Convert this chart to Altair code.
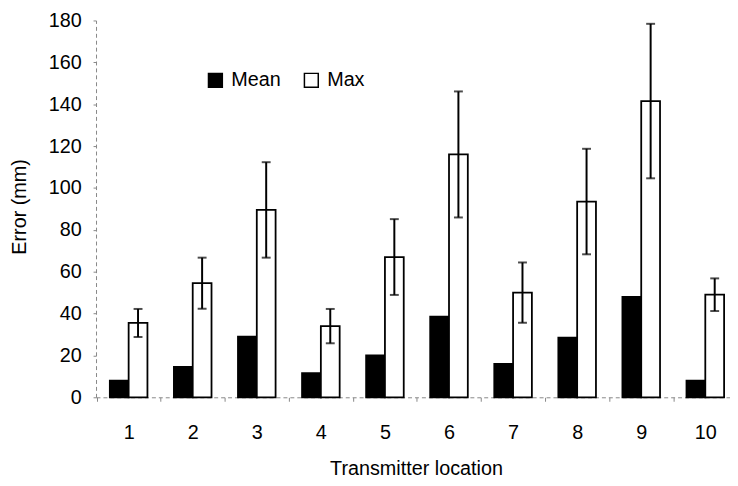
import altair as alt
import pandas as pd

# ---- data ----
locations = ["1", "2", "3", "4", "5", "6", "7", "8", "9", "10"]
series_names = ["Mean", "Max"]
mean_vals = [8, 14.5, 29, 11.5, 20, 38.5, 16, 28.5, 48, 8]
max_vals = [35.5, 54.5, 89.5, 34, 67, 116, 50, 93.5, 141.5, 49]
max_err = [6.7, 12.2, 22.8, 8.2, 18.1, 30.1, 14.4, 25.2, 36.9, 7.8]
y_ticks = [0, 20, 40, 60, 80, 100, 120, 140, 160, 180]

FONT = "Liberation Sans"

bars_df = pd.DataFrame({
    "loc": locations * 2,
    "series": ["Mean"] * len(locations) + ["Max"] * len(locations),
    "value": mean_vals + max_vals,
})
err_df = pd.DataFrame({
    "loc": locations,
    "series": ["Max"] * len(locations),
    "lo": [m - e for m, e in zip(max_vals, max_err)],
    "hi": [m + e for m, e in zip(max_vals, max_err)],
})

x_enc = alt.X(
    "loc:N",
    sort=locations,
    scale=alt.Scale(range=[0, 649], paddingInner=0.413, paddingOuter=0.2155),
    axis=alt.Axis(
        title="Transmitter location",
        labelAngle=0,
        labelFont=FONT,
        labelFontSize=20,
        labelColor="black",
        labelPadding=22,
        labelOffset=32.4,
        ticks=True,
        tickSize=4,
        tickColor="#888888",
        tickWidth=1,
        tickOffset=-32.4,
        domainColor="#888888",
        domainDash=[4, 3],
        domainWidth=1,
        titleFont=FONT,
        titleFontSize=20,
        titleFontWeight="normal",
        titleColor="#000000",
        titleX=323.5,
        titleY=78,
        titleAlign="center",
        titleBaseline="alphabetic",
    ),
)
xo_enc = alt.XOffset(
    "series:N",
    sort=series_names,
    scale=alt.Scale(domain=series_names, paddingInner=0, paddingOuter=0),
)


def y_enc(field):
    return alt.Y(
        field,
        type="quantitative",
        scale=alt.Scale(domain=[0, 180], nice=False),
        axis=alt.Axis(
            title="Error (mm)",
            values=y_ticks,
            grid=False,
            labelFont=FONT,
            labelFontSize=20,
            labelColor="black",
            labelPadding=12,
            tickSize=3,
            tickColor="#888888",
            domainColor="#888888",
            domainDash=[4, 3],
            domainWidth=1,
            titleFont=FONT,
            titleFontSize=20,
            titleFontWeight="normal",
            titleColor="#000000",
            titleAngle=-90,
            titleX=-77,
            titleY=188,
            titleAlign="center",
            titleBaseline="middle",
        ),
    )


bars = alt.Chart(bars_df).mark_bar(stroke="black", strokeWidth=1.8).encode(
    x=x_enc,
    xOffset=xo_enc,
    y=y_enc("value"),
    fill=alt.Fill(
        "series:N",
        sort=series_names,
        scale=alt.Scale(domain=series_names, range=["black", "white"]),
        legend=alt.Legend(
            title=None,
            orient="none",
            legendX=110.7,
            legendY=50.5,
            direction="horizontal",
            symbolType="square",
            symbolSize=196,
            symbolStrokeColor="black",
            symbolStrokeWidth=1.5,
            labelFont=FONT,
            labelFontSize=20,
            labelColor="black",
            labelOffset=6,
            columnPadding=20,
            padding=0,
            labelLimit=300,
        ),
    ),
)

whisker = alt.Chart(err_df).mark_rule(color="black", strokeWidth=2).encode(
    x=x_enc, xOffset=xo_enc, y=y_enc("lo"), y2="hi:Q"
)
cap_hi = alt.Chart(err_df).mark_tick(color="black", thickness=2, size=9).encode(
    x=x_enc, xOffset=xo_enc, y=y_enc("hi")
)
cap_lo = alt.Chart(err_df).mark_tick(color="black", thickness=2, size=9).encode(
    x=x_enc, xOffset=xo_enc, y=y_enc("lo")
)

chart = (
    alt.layer(bars, whisker, cap_hi, cap_lo)
    .properties(
        width=641,
        height=381,
        autosize=alt.AutoSizeParams(type="none"),
        padding={"left": 89, "top": 10, "right": 0, "bottom": 79},
        background="white",
    )
    .configure_view(stroke=None)
)

chart.save("out.html", embed_options={"renderer": "svg", "actions": False})
